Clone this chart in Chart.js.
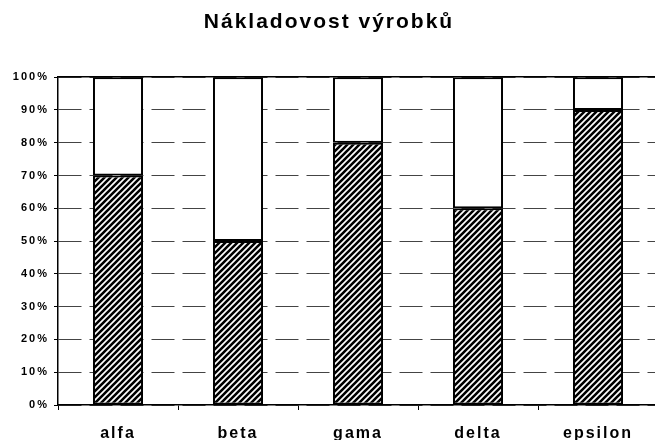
<!DOCTYPE html>
<html>
<head>
<meta charset="utf-8">
<script src="https://cdn.jsdelivr.net/npm/chart.js@4/dist/chart.umd.min.js"></script>
<style>
  html, body { margin: 0; padding: 0; background: #fff; overflow: hidden; }
  #wrap { width: 660px; height: 440px; }
</style>
</head>
<body>
<div id="wrap"><canvas id="myChart" width="660" height="440"></canvas></div>
<script>
var categories = ["alfa", "beta", "gama", "delta", "epsilon"];
var naklady = [70, 50, 80, 60, 90];
var zbytek = [30, 50, 20, 40, 10];
var yTicks = [0, 10, 20, 30, 40, 50, 60, 70, 80, 90, 100];

// hatched fill: black diagonal lines
function hatch() {
    var c = document.createElement('canvas');
    c.width = 6; c.height = 6;
    var g = c.getContext('2d');
    g.fillStyle = '#fff';
    g.fillRect(0, 0, 6, 6);
    g.strokeStyle = '#000';
    g.lineWidth = 2.6;
    g.beginPath();
    g.moveTo(-1, 7); g.lineTo(7, -1);
    g.moveTo(-4, 4); g.lineTo(4, -4);
    g.moveTo(2, 10); g.lineTo(10, 2);
    g.stroke();
    return g.createPattern(c, 'repeat');
}

var spacing = {
    id: 'spacing',
    beforeDraw: function (chart) { chart.ctx.letterSpacing = '2px'; },
    afterDraw: function (chart) { chart.ctx.letterSpacing = '0px'; }
};

var ctx = document.getElementById('myChart').getContext('2d');
var chart = new Chart(ctx, {
    type: 'bar',
    data: {
        labels: categories,
        datasets: [{
            label: 'náklady',
            data: naklady,
            backgroundColor: hatch(),
            borderColor: '#000',
            borderWidth: 2,
            borderSkipped: false,
            barPercentage: 0.417,
            categoryPercentage: 1
        }, {
            label: 'zbytek',
            data: zbytek,
            backgroundColor: '#fff',
            borderColor: '#000',
            borderWidth: 2,
            borderSkipped: false,
            barPercentage: 0.417,
            categoryPercentage: 1
        }]
    },
    plugins: [spacing],
    options: {
        responsive: false,
        animation: false,
        layout: { padding: { left: 0, right: 2, top: 0, bottom: 0 } },
        plugins: {
            legend: { display: false },
            tooltip: { enabled: false },
            title: {
                display: true,
                text: 'Nákladovost výrobků',
                color: '#000',
                font: { family: 'Liberation Sans', size: 21, weight: 'bold' },
                padding: { top: 10, bottom: 42 }
            }
        },
        scales: {
            x: {
                stacked: true,
                grid: { display: true, drawOnChartArea: false, offset: true, tickLength: 5, color: '#000' },
                border: { display: true, color: '#000', width: 1.5 },
                ticks: {
                    color: '#000',
                    padding: 14,
                    font: { family: 'Liberation Sans', size: 16, weight: 'bold' }
                },
                afterFit: function (s) { s.height = 35; }
            },
            x2: {
                position: 'top',
                labels: categories,
                grid: { display: false, drawTicks: false },
                border: { display: true, color: '#000', width: 1.5 },
                ticks: { display: false }
            },
            y: {
                stacked: true,
                min: 0,
                max: 100,
                afterBuildTicks: function (s) { s.ticks = yTicks.map(function (v) { return { value: v }; }); },
                grid: { color: '#444', lineWidth: 1, tickLength: 4, tickColor: '#000' },
                border: { display: true, color: '#000', width: 1.5, dash: [23, 8] },
                ticks: {
                    color: '#000',
                    padding: 5,
                    font: { family: 'Liberation Sans', size: 11, weight: 'bold' },
                    callback: function (v) { return v + '%'; }
                },
                afterFit: function (s) { s.width = 58; }
            }
        }
    }
});
</script>
</body>
</html>
